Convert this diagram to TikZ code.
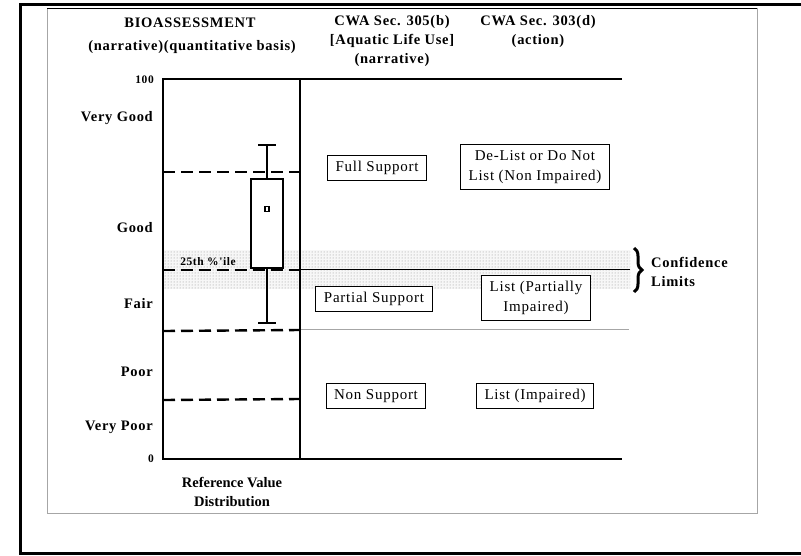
\documentclass[tikz,border=0pt]{standalone}
\usepackage{fontspec}
\setmainfont{Liberation Serif}
\newfontfamily\hdr[LetterSpace=5]{Liberation Serif}
\usetikzlibrary{patterns,decorations.pathreplacing}
\begin{document}
\begin{tikzpicture}[x=1pt,y=-1pt,
  hd/.style={font=\hdr\bfseries\fontsize{14.5}{19}\selectfont,inner sep=0pt,align=center},
  lab/.style={font=\hdr\bfseries\fontsize{14.5}{19}\selectfont,inner sep=0pt,anchor=east},
  small/.style={font=\hdr\bfseries\fontsize{11.5}{13}\selectfont,inner sep=0pt},
  ref/.style={font=\bfseries\fontsize{14.5}{19}\selectfont,inner sep=0pt,align=center},
  cat/.style={draw,line width=0.9pt,font=\hdr\fontsize{15}{20}\selectfont,inner xsep=8pt,inner ysep=6pt,align=center,fill=white},
  axis/.style={line width=2.4pt},
  dsh/.style={line width=2.4pt,dash pattern=on 12pt off 6pt},
  bp/.style={line width=2pt}]
\useasboundingbox (0,0) rectangle (801,555);
% frames
\draw[line width=3pt] (801,4.5) -- (20,4.5) -- (20,553) -- (801,553);
\draw[gray!70,line width=1pt] (47,8) rectangle (757,513);
\draw[line width=1pt] (47,8) -- (757,8);
% confidence band
\fill[gray!6] (163,250) rectangle (630,289);
\fill[pattern=dots,pattern color=black!45] (163,250) rectangle (630,289);
% thin lines
\coordinate (t1a) at (300,269); \coordinate (t1b) at (630,269);
\draw[line width=0.9pt] (t1a) -- (t1b);
\coordinate (t2a) at (300,329); \coordinate (t2b) at (629,329);
\draw[gray!70,line width=1pt] (t2a) -- (t2b);
% dashed lines
\coordinate (d1a) at (163,172); \coordinate (d1b) at (300,172);
\coordinate (d2a) at (163,270); \coordinate (d2b) at (300,270);
\coordinate (d3a) at (163,331); \coordinate (d3b) at (300,330);
\coordinate (d4a) at (163,400); \coordinate (d4b) at (300,399);
\draw[dsh] (d1a) -- (d1b);
\draw[dsh] (d2a) -- (d2b);
\draw[dsh] (d3a) -- (d3b);
\draw[dsh] (d4a) -- (d4b);
% axes
\coordinate (ax0) at (163,79); \coordinate (ax1) at (163,459);
\coordinate (top) at (622,79); \coordinate (bot) at (622,459);
\coordinate (midT) at (300,79); \coordinate (midB) at (300,459);
\draw[axis] (top) -- (ax0) -- (ax1) -- (bot);
\draw[axis] (midT) -- (midB);
% box plot
\coordinate (wt) at (267,145); \coordinate (wb) at (267,323);
\draw[bp] (wt) -- (267,179);
\draw[bp] (258,145) -- (276,145);
\draw[bp] (267,268) -- (wb);
\draw[bp] (258,323) -- (276,323);
\node[draw,bp,fill=white,minimum width=32pt,minimum height=89pt,inner sep=0pt] (box) at (267,223.5) {};
\node[draw,line width=1.5pt,minimum width=4pt,minimum height=5pt,inner sep=0pt] (med) at (267,209) {};
% headers
\node[hd] (h1) at (190,23) {BIOASSESSMENT};
\node[hd] (h2) at (192,47) {(narrative)(quantitative basis)};
\node[hd,anchor=north] (h3) at (392,15) {CWA Sec. 305(b)\\{[Aquatic Life Use]}\\(narrative)};
\node[hd,anchor=north] (h4) at (538,15) {CWA Sec. 303(d)\\(action)};
% axis labels
\node[small,anchor=east] (l100) at (154,80) {100};
\node[lab] (lvg) at (153,118) {Very Good};
\node[lab] (lg) at (153,228) {Good};
\node[lab] (lf) at (153,304) {Fair};
\node[lab] (lp) at (153,372) {Poor};
\node[lab] (lvp) at (153,427) {Very Poor};
\node[small,anchor=east] (l0) at (154,459) {0};
\node[small] (pct) at (208,262) {25th \%'ile};
% categories
\node[cat] (fs) at (377,168) {Full Support};
\node[cat] (dl) at (535,167) {De-List or Do Not\\List (Non Impaired)};
\node[cat] (ps) at (374,299) {Partial Support};
\node[cat] (lpi) at (536,298) {List (Partially\\Impaired)};
\node[cat] (ns) at (376,396) {Non Support};
\node[cat] (li) at (535,396) {List (Impaired)};
% confidence
\coordinate (bra) at (634,248); \coordinate (brb) at (634,292);
\draw[line width=3pt,decorate,decoration={brace,amplitude=8pt}] (bra) -- (brb);
\node[hd,anchor=west,align=left] (cl) at (651,272) {Confidence\\Limits};
% reference
\node[ref] (rv) at (232,491.5) {Reference Value\\Distribution};
\end{tikzpicture}
\end{document}
